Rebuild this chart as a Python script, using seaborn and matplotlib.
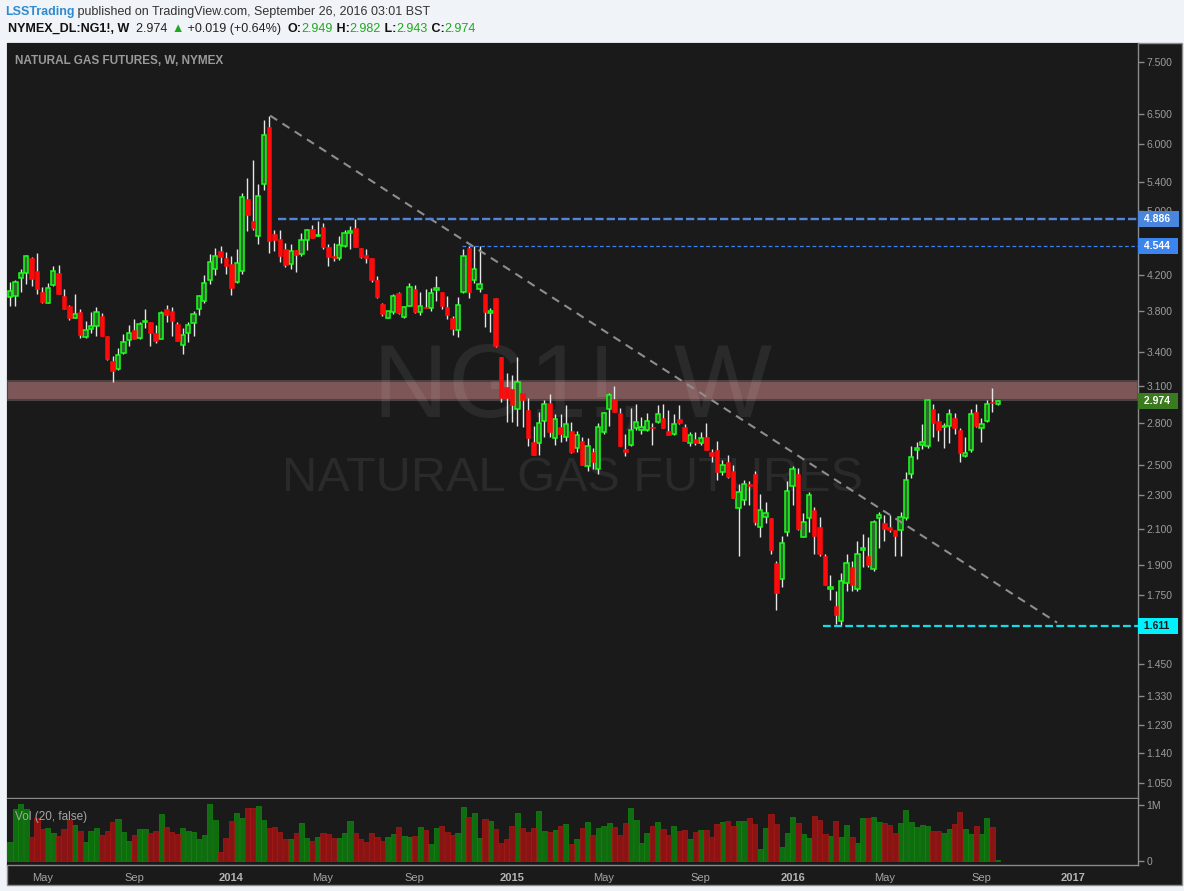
import numpy as np
import pandas as pd
import matplotlib
matplotlib.use("Agg")
import matplotlib.pyplot as plt
import matplotlib.transforms as mtransforms
from matplotlib.patches import Rectangle
from matplotlib.ticker import FixedLocator, NullLocator, FuncFormatter
import seaborn as sns

# NYMEX natural gas (NG1!), weekly bars, week of 2013-03-25 .. week of 2016-09-26
first_week = "2013-03-25"

opens = [
    3.95, 3.96, 4.16, 4.22, 4.39, 4.24, 4.01, 3.89, 4.08, 4.22,
    3.96, 3.85, 3.73, 3.79, 3.54, 3.62, 3.65, 3.75, 3.55, 3.32,
    3.25, 3.39, 3.51, 3.61, 3.53, 3.69, 3.69, 3.58, 3.52, 3.82,
    3.80, 3.67, 3.47, 3.58, 3.68, 3.82, 3.91, 4.14, 4.27, 4.48,
    4.40, 4.32, 4.12, 4.24, 5.16, 4.86, 4.66, 5.38, 6.29, 4.69,
    4.63, 4.50, 4.32, 4.49, 4.44, 4.62, 4.75, 4.66, 4.78, 4.53,
    4.42, 4.40, 4.54, 4.70, 4.77, 4.52, 4.43, 4.40, 4.14, 3.88,
    3.73, 3.79, 3.99, 3.74, 3.86, 4.04, 3.79, 3.84, 3.83, 4.03,
    4.00, 3.84, 3.73, 3.61, 4.00, 4.51, 4.14, 4.04, 3.98, 3.78,
    3.94, 3.35, 3.09, 3.07, 2.91, 3.04, 2.90, 2.66, 2.65, 2.82,
    2.96, 2.69, 2.77, 2.70, 2.74, 2.62, 2.67, 2.49, 2.59, 2.47,
    2.73, 2.91, 2.99, 2.88, 2.61, 2.64, 2.76, 2.75, 2.75, 2.77,
    2.81, 2.84, 2.74, 2.72, 2.83, 2.77, 2.65, 2.68, 2.65, 2.70,
    2.59, 2.60, 2.45, 2.52, 2.46, 2.22, 2.27, 2.37, 2.44, 2.11,
    2.17, 2.16, 1.91, 1.83, 2.08, 2.36, 2.44, 2.05, 2.16, 2.21,
    2.11, 1.95, 1.78, 1.70, 1.63, 1.81, 1.89, 1.78, 1.98, 1.95,
    1.88, 2.16, 2.13, 2.11, 2.09, 2.09, 2.16, 2.44, 2.60, 2.64,
    2.63, 2.91, 2.82, 2.77, 2.78, 2.84, 2.75, 2.56, 2.60, 2.89,
    2.76, 2.82, 2.958, 2.949]

highs = [
    4.12, 4.14, 4.26, 4.43, 4.41, 4.46, 4.06, 4.10, 4.30, 4.31,
    4.04, 3.87, 3.98, 3.82, 3.70, 3.79, 3.84, 3.78, 3.55, 3.36,
    3.44, 3.57, 3.66, 3.72, 3.69, 3.82, 3.69, 3.66, 3.80, 3.87,
    3.84, 3.69, 3.63, 3.69, 3.80, 3.97, 4.20, 4.44, 4.51, 4.54,
    4.47, 4.42, 4.50, 5.24, 5.46, 5.74, 5.38, 6.40, 6.48, 4.74,
    4.74, 4.58, 4.57, 4.49, 4.70, 4.76, 4.81, 4.86, 4.84, 4.56,
    4.58, 4.67, 4.74, 4.79, 4.89, 4.52, 4.50, 4.40, 4.18, 3.89,
    3.80, 3.98, 4.01, 3.86, 4.10, 4.08, 4.01, 4.04, 4.05, 4.18,
    4.00, 3.96, 3.75, 3.95, 4.50, 4.54, 4.54, 4.54, 3.98, 3.83,
    3.94, 3.35, 3.21, 3.19, 3.35, 3.04, 3.00, 2.78, 2.89, 2.98,
    3.03, 2.87, 2.87, 2.94, 2.81, 2.74, 2.70, 2.69, 2.62, 2.80,
    2.89, 3.04, 3.10, 2.92, 2.72, 2.92, 2.95, 2.85, 2.88, 2.80,
    2.94, 2.95, 2.90, 2.87, 2.94, 2.79, 2.73, 2.73, 2.73, 2.80,
    2.61, 2.67, 2.53, 2.57, 2.50, 2.37, 2.40, 2.39, 2.46, 2.31,
    2.26, 2.16, 1.92, 2.06, 2.39, 2.49, 2.48, 2.19, 2.32, 2.23,
    2.17, 1.96, 1.85, 1.77, 1.86, 1.96, 1.92, 2.03, 2.07, 2.05,
    2.15, 2.20, 2.18, 2.18, 2.09, 2.20, 2.45, 2.63, 2.66, 2.79,
    2.99, 2.95, 2.88, 2.80, 2.91, 2.88, 2.76, 2.70, 2.91, 2.95,
    2.84, 2.98, 3.08, 2.982]

lows = [
    3.86, 3.86, 4.00, 4.09, 4.07, 3.98, 3.89, 3.89, 4.07, 3.98,
    3.82, 3.71, 3.73, 3.53, 3.53, 3.58, 3.55, 3.55, 3.33, 3.13,
    3.24, 3.38, 3.46, 3.52, 3.52, 3.63, 3.46, 3.48, 3.52, 3.69,
    3.55, 3.50, 3.38, 3.49, 3.55, 3.76, 3.89, 4.09, 4.20, 4.34,
    4.21, 3.97, 4.11, 4.21, 4.73, 4.74, 4.56, 5.29, 4.45, 4.48,
    4.35, 4.29, 4.27, 4.23, 4.42, 4.49, 4.64, 4.66, 4.50, 4.30,
    4.36, 4.37, 4.53, 4.50, 4.53, 4.39, 4.34, 4.12, 3.94, 3.75,
    3.73, 3.77, 3.77, 3.73, 3.85, 3.78, 3.76, 3.83, 3.80, 3.91,
    3.82, 3.72, 3.56, 3.54, 3.99, 3.94, 4.11, 4.01, 3.64, 3.59,
    3.45, 2.97, 2.81, 2.81, 2.78, 2.77, 2.63, 2.57, 2.57, 2.70,
    2.70, 2.64, 2.66, 2.67, 2.58, 2.59, 2.50, 2.46, 2.47, 2.44,
    2.72, 2.78, 2.89, 2.63, 2.56, 2.63, 2.75, 2.72, 2.74, 2.64,
    2.80, 2.76, 2.71, 2.71, 2.79, 2.67, 2.63, 2.64, 2.64, 2.60,
    2.52, 2.40, 2.43, 2.41, 2.28, 1.95, 2.24, 2.24, 2.12, 2.05,
    2.13, 1.96, 1.68, 1.79, 2.06, 2.24, 2.09, 2.05, 2.08, 1.96,
    1.95, 1.80, 1.73, 1.62, 1.611, 1.77, 1.77, 1.77, 1.89, 1.89,
    1.87, 1.99, 2.03, 2.08, 1.95, 1.95, 2.15, 2.41, 2.54, 2.61,
    2.62, 2.70, 2.67, 2.62, 2.65, 2.72, 2.52, 2.55, 2.59, 2.77,
    2.66, 2.81, 2.89, 2.943]

closes = [
    4.02, 4.12, 4.22, 4.42, 4.15, 4.04, 3.90, 4.05, 4.24, 3.98,
    3.82, 3.73, 3.77, 3.56, 3.61, 3.65, 3.79, 3.55, 3.34, 3.23,
    3.37, 3.49, 3.58, 3.52, 3.67, 3.70, 3.58, 3.50, 3.78, 3.76,
    3.70, 3.50, 3.56, 3.66, 3.77, 3.96, 4.11, 4.35, 4.42, 4.41,
    4.30, 4.05, 4.33, 5.19, 4.94, 4.77, 5.21, 6.14, 4.60, 4.62,
    4.42, 4.31, 4.48, 4.43, 4.62, 4.74, 4.64, 4.67, 4.53, 4.41,
    4.40, 4.55, 4.71, 4.73, 4.53, 4.41, 4.40, 4.14, 3.95, 3.77,
    3.80, 3.96, 3.78, 3.84, 4.06, 3.79, 3.86, 3.83, 3.99, 4.04,
    3.85, 3.76, 3.62, 3.87, 4.42, 4.01, 4.27, 4.09, 3.79, 3.80,
    3.46, 3.00, 3.00, 2.94, 3.13, 2.98, 2.69, 2.57, 2.80, 2.95,
    2.73, 2.83, 2.72, 2.79, 2.59, 2.71, 2.50, 2.63, 2.52, 2.77,
    2.88, 3.02, 2.89, 2.63, 2.59, 2.75, 2.81, 2.77, 2.82, 2.76,
    2.87, 2.76, 2.71, 2.79, 2.80, 2.67, 2.71, 2.65, 2.69, 2.60,
    2.56, 2.45, 2.50, 2.42, 2.28, 2.32, 2.37, 2.36, 2.14, 2.21,
    2.19, 1.98, 1.76, 2.02, 2.33, 2.47, 2.10, 2.14, 2.30, 2.06,
    1.96, 1.80, 1.79, 1.66, 1.82, 1.91, 1.80, 1.96, 1.99, 1.90,
    2.14, 2.18, 2.10, 2.09, 2.06, 2.17, 2.40, 2.55, 2.62, 2.66,
    2.98, 2.80, 2.75, 2.78, 2.87, 2.76, 2.58, 2.58, 2.87, 2.78,
    2.79, 2.95, 2.955, 2.974]

# weekly volume, millions of contracts
volume_m = [
    0.33, 0.93, 1.02, 0.93, 0.43, 0.77, 0.57, 0.59, 0.50, 0.45,
    0.57, 0.73, 0.64, 0.54, 0.34, 0.54, 0.59, 0.46, 0.54, 0.70,
    0.75, 0.52, 0.36, 0.46, 0.57, 0.57, 0.50, 0.54, 0.84, 0.61,
    0.52, 0.48, 0.59, 0.54, 0.52, 0.39, 0.46, 1.02, 0.73, 0.16,
    0.41, 0.71, 0.86, 0.77, 0.95, 0.95, 0.98, 0.73, 0.59, 0.61,
    0.52, 0.39, 0.38, 0.50, 0.68, 0.41, 0.36, 0.43, 0.50, 0.48,
    0.41, 0.41, 0.50, 0.71, 0.50, 0.38, 0.34, 0.50, 0.43, 0.36,
    0.43, 0.48, 0.61, 0.45, 0.43, 0.45, 0.61, 0.55, 0.29, 0.59,
    0.63, 0.52, 0.46, 0.50, 0.96, 0.79, 0.86, 0.41, 0.75, 0.71,
    0.57, 0.32, 0.38, 0.63, 0.86, 0.59, 0.52, 0.59, 0.89, 0.54,
    0.52, 0.55, 0.63, 0.66, 0.30, 0.39, 0.59, 0.70, 0.46, 0.59,
    0.63, 0.68, 0.61, 0.46, 0.68, 0.95, 0.73, 0.32, 0.50, 0.63,
    0.70, 0.57, 0.46, 0.63, 0.54, 0.55, 0.39, 0.52, 0.55, 0.55,
    0.43, 0.66, 0.70, 0.71, 0.63, 0.71, 0.71, 0.77, 0.66, 0.21,
    0.59, 0.84, 0.66, 0.25, 0.50, 0.79, 0.68, 0.48, 0.41, 0.80,
    0.73, 0.48, 0.45, 0.71, 0.43, 0.64, 0.43, 0.32, 0.77, 0.77,
    0.79, 0.70, 0.68, 0.64, 0.50, 0.68, 0.91, 0.70, 0.61, 0.64,
    0.63, 0.54, 0.54, 0.50, 0.57, 0.66, 0.88, 0.57, 0.48, 0.63,
    0.48, 0.77, 0.61, 0.01]

# drawings on the chart
zone_low, zone_high = 2.985, 3.145
level_prices = [4.886, 4.544, 1.611]
level_labels = ["4.886", "4.544", "1.611"]
level_start_bar = [49.7, 83.8, 150.6]
trend_bars = [48.2, 194.0]
trend_prices = [6.48, 1.625]
last_price = 2.974

price_ticks = [1.05, 1.14, 1.23, 1.33, 1.45, 1.75, 1.90, 2.10, 2.30, 2.50,
               2.80, 3.10, 3.40, 3.80, 4.20, 5.00, 5.40, 6.00, 6.50, 7.50]

sns.set_style("dark")
plt.rcParams["font.family"] = ["Liberation Sans", "DejaVu Sans"]

o = np.array(opens); h = np.array(highs); l = np.array(lows); c = np.array(closes)
n = len(c)
idx = np.arange(n)
up = c >= o
dates = pd.Timestamp(first_week) + pd.to_timedelta(idx * 7, unit="D")

W, H = 1184, 891
fx = lambda px: px / W
fy = lambda py: 1 - py / H

BG = "#1a1a1a"
GRID = "#8a8a8a"
TXT = "#9c9c9c"

fig = plt.figure(figsize=(W / 100, H / 100), dpi=100, facecolor="#f0f3f7")
# dark chart panel behind both panes
fig.patches.append(Rectangle((fx(7), fy(885)), fx(1182) - fx(7), fy(43) - fy(885),
                             transform=fig.transFigure, facecolor=BG,
                             edgecolor="#8c8c8c", lw=1, zorder=-5))

ax = fig.add_axes([fx(7), fy(798), fx(1138) - fx(7), fy(43) - fy(798)])
axv = fig.add_axes([fx(7), fy(865), fx(1138) - fx(7), fy(799) - fy(865)], sharex=ax)
for a in (ax, axv):
    a.set_facecolor(BG)
    a.grid(False)
    for s in ("top", "left"):
        a.spines[s].set_visible(False)
    for s in ("right", "bottom"):
        a.spines[s].set_color(GRID)
        a.spines[s].set_linewidth(1)

xlim = (-0.56, 209.0)

# ---- price pane
ax.set_yscale("log")
ax.set_xlim(*xlim)
ax.set_ylim(1.007, 7.90)

ax.axhspan(zone_low, zone_high, facecolor="#7d5757", edgecolor="#4a4242", lw=1.5, zorder=1)

ax.text(0.5, 0.54, "NG1!, W", transform=ax.transAxes, ha="center", va="center",
        fontsize=75, color="white", alpha=0.07, zorder=1.5)
ax.text(0.5, 0.423, "NATURAL GAS FUTURES", transform=ax.transAxes, ha="center",
        va="center", fontsize=35, color="white", alpha=0.07, zorder=1.5)

ax.vlines(idx, l, h, color="#e6e6e6", lw=1, zorder=3)
body_lo = np.minimum(o, c)
body_h = np.maximum(np.abs(c - o), 0.004 * c)
ax.bar(idx[up], body_h[up], bottom=body_lo[up], width=0.8, color="#2c6b2c",
       edgecolor="#1aff1a", lw=1.1, zorder=4)
ax.bar(idx[~up], body_h[~up], bottom=body_lo[~up], width=0.84, color="#ff0a0a",
       edgecolor="#ff0a0a", lw=0.4, zorder=4)

ax.plot(trend_bars, trend_prices, color="#8d8d8d", lw=1.5, ls=(0, (4, 3)), zorder=5)
ax.hlines(level_prices[0], level_start_bar[0], xlim[1], color="#4f86dc", lw=1.7,
          linestyles=[(0, (3.5, 1.3))], zorder=5)
ax.hlines(level_prices[1], level_start_bar[1], xlim[1], color="#3a80f0", lw=0.9,
          linestyles=[(0, (3, 2))], zorder=5)
ax.hlines(level_prices[2], level_start_bar[2], xlim[1], color="#14dce8", lw=1.6,
          linestyles=[(0, (3.5, 1.5))], zorder=5)

ax.yaxis.tick_right()
ax.yaxis.set_major_locator(FixedLocator(price_ticks))
ax.yaxis.set_minor_locator(NullLocator())
ax.yaxis.set_major_formatter(FuncFormatter(lambda v, p: f"{v:.3f}"))
ax.tick_params(axis="y", which="major", direction="out", length=4, width=1,
               color=GRID, labelcolor=TXT, labelsize=7.5, pad=2)
ax.tick_params(axis="x", which="both", bottom=False, labelbottom=False)

tr = mtransforms.blended_transform_factory(ax.transAxes, ax.transData)
box_style = [("#4a86dc", "white"), ("#3c84ee", "white"), ("#00f2ff", "#1a1a1a")]
for p, lab, (fc, tc) in zip(level_prices, level_labels, box_style):
    ax.text(1.0025, p, f" {lab}  ", transform=tr, ha="left", va="center",
            fontsize=7.5, fontweight="bold", color=tc, zorder=6, clip_on=False,
            bbox=dict(boxstyle="square,pad=0.28", fc=fc, ec="none"))
ax.text(1.0025, last_price, f" {last_price:.3f}  ", transform=tr, ha="left",
        va="center", fontsize=7.5, fontweight="bold", color="white", zorder=6,
        clip_on=False, bbox=dict(boxstyle="square,pad=0.28", fc="#3b7a1e", ec="none"))

ax.text(0.0071, 0.976, "NATURAL GAS FUTURES, W, NYMEX", transform=ax.transAxes,
        ha="left", va="center", fontsize=8.5, fontweight="bold", color="#9a9a9a")

# ---- volume pane
vol_df = pd.DataFrame({"bar": idx, "vol": volume_m,
                       "dir": np.where(up, "up", "down")})
sns.barplot(data=vol_df, x="bar", y="vol", hue="dir",
            palette={"up": "#0f6c0f", "down": "#8a1313"}, native_scale=True,
            dodge=False, width=0.95, saturation=1, errorbar=None, legend=False,
            ax=axv, zorder=3)
for patch in axv.patches:
    fc = patch.get_facecolor()
    patch.set_edgecolor((min(fc[0] * 1.25, 1), min(fc[1] * 1.25, 1), fc[2], 1))
    patch.set_linewidth(0.5)
axv.set_xlim(*xlim)
axv.set_ylim(-0.081, 1.108)
axv.set_xlabel("")
axv.set_ylabel("")
axv.yaxis.tick_right()
axv.set_yticks([0, 1.0])
axv.set_yticklabels(["0", "1M"])
axv.tick_params(axis="y", direction="out", length=4, width=1, color=GRID,
                labelcolor=TXT, labelsize=7.5, pad=2)
axv.text(0.0071, 0.72, "Vol (20, false)", transform=axv.transAxes, ha="left",
         va="center", fontsize=8.5, color="#a6a6a6")

# month ticks sit on the first weekly bar of each month
months = pd.date_range("2013-05-01", "2017-01-01", freq="4MS")
tick_pos = [int(np.ceil((m - dates[0]).days / 7)) for m in months]
tick_lab = [str(m.year) if m.month == 1 else m.strftime("%b") for m in months]
axv.set_xticks(tick_pos)
axv.set_xticklabels(tick_lab)
axv.tick_params(axis="x", direction="out", length=3, width=1, color=GRID,
                labelcolor="#a4a4a4", labelsize=8, pad=3)
for t in axv.get_xticklabels():
    if t.get_text().isdigit():
        t.set_fontweight("bold")
        t.set_color("#b4b4b4")

# ---- header
renderer = fig.canvas.get_renderer()


def write_pieces(x, y, pieces, size):
    for s, col, wt in pieces:
        t = fig.text(x, y, s, color=col, fontweight=wt, fontsize=size,
                     ha="left", va="center")
        x += t.get_window_extent(renderer=renderer).width / fig.bbox.width


write_pieces(fx(5), fy(12), [
    ("LSSTrading", "#2f8bd0", "bold"),
    (" published on TradingView.com, September 26, 2016 03:01 BST", "#333333", "normal"),
], 9.0)
write_pieces(fx(8), fy(29), [
    ("NYMEX_DL:NG1!, W", "#111111", "bold"),
    ("  2.974 ", "#222222", "normal"),
    ("\u25B2", "#1fa81f", "normal"),
    (" +0.019 (+0.64%)  ", "#222222", "normal"),
    ("O:", "#111111", "bold"),
    ("2.949", "#1fa81f", "normal"),
    (" H:", "#111111", "bold"),
    ("2.982", "#1fa81f", "normal"),
    (" L:", "#111111", "bold"),
    ("2.943", "#1fa81f", "normal"),
    (" C:", "#111111", "bold"),
    ("2.974", "#1fa81f", "normal"),
], 9.0)

fig.savefig("out.png", dpi=100, facecolor=fig.get_facecolor())
